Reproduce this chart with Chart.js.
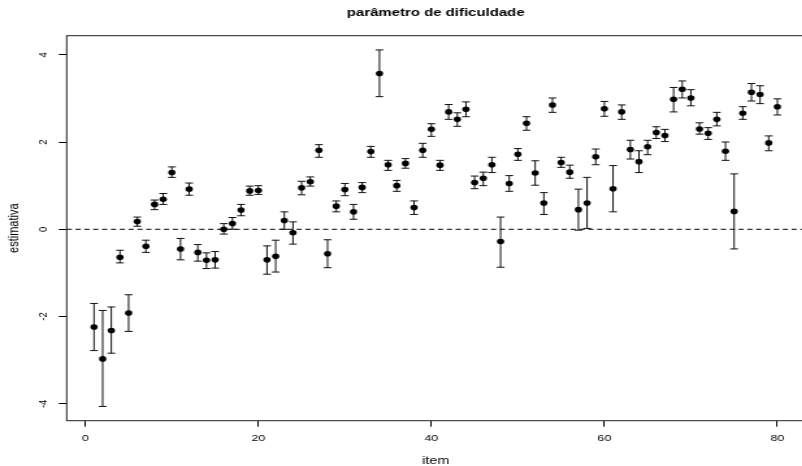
<!DOCTYPE html>
<html>
<head>
<meta charset="utf-8">
<script src="https://cdn.jsdelivr.net/npm/chart.js@4.4.1/dist/chart.umd.min.js"></script>
<style>
  html, body { margin: 0; padding: 0; background: #fff; overflow: hidden; width: 802px; height: 466px; }
  #wrap { position: absolute; left: 0; top: 0; width: 619px; height: 466px; transform: scaleX(1.3); transform-origin: 0 0; }
  canvas { display: block; }
</style>
</head>
<body>
<div id="wrap"><canvas id="c" width="619" height="466"></canvas></div>
<script>
// ---- data ----
const items = [1,2,3,4,5,6,7,8,9,10,11,12,13,14,15,16,17,18,19,20,
               21,22,23,24,25,26,27,28,29,30,31,32,33,34,35,36,37,38,39,40,
               41,42,43,44,45,46,47,48,49,50,51,52,53,54,55,56,57,58,59,60,
               61,62,63,64,65,66,67,68,69,70,71,72,73,74,75,76,77,78,79,80];

const estimates = [-2.24,-2.97,-2.32,-0.64,-1.92,0.18,-0.39,0.57,0.69,1.30,
                   -0.45,0.92,-0.53,-0.71,-0.70,0.00,0.13,0.44,0.88,0.89,
                   -0.70,-0.62,0.20,-0.08,0.95,1.09,1.81,-0.56,0.53,0.91,
                   0.40,0.96,1.78,3.57,1.48,1.00,1.51,0.50,1.81,2.29,
                   1.47,2.69,2.52,2.75,1.07,1.17,1.48,-0.28,1.05,1.72,
                   2.43,1.29,0.60,2.85,1.53,1.31,0.45,0.60,1.66,2.76,
                   0.93,2.69,1.83,1.55,1.89,2.22,2.15,2.98,3.21,3.01,
                   2.30,2.20,2.52,1.79,0.41,2.66,3.14,3.09,1.98,2.81];

const upper = [-1.70,-1.86,-1.78,-0.48,-1.50,0.28,-0.25,0.67,0.82,1.43,
               -0.21,1.06,-0.35,-0.54,-0.51,0.13,0.27,0.57,0.99,1.00,
               -0.38,-0.25,0.40,0.17,1.10,1.20,1.94,-0.24,0.65,1.05,
               0.57,1.07,1.90,4.11,1.58,1.12,1.62,0.65,1.97,2.42,
               1.58,2.86,2.67,2.92,1.22,1.31,1.65,0.28,1.23,1.85,
               2.58,1.57,0.84,3.01,1.65,1.47,0.92,1.19,1.84,2.93,
               1.46,2.85,2.04,1.80,2.04,2.35,2.29,3.25,3.40,3.20,
               2.44,2.33,2.68,2.00,1.27,2.81,3.34,3.29,2.14,2.99];

const lower = [-2.78,-4.06,-2.84,-0.77,-2.34,0.07,-0.53,0.45,0.57,1.19,
               -0.70,0.78,-0.73,-0.90,-0.89,-0.11,0.00,0.31,0.78,0.80,
               -1.03,-0.98,0.00,-0.34,0.79,0.99,1.65,-0.88,0.40,0.77,
               0.23,0.84,1.65,3.04,1.35,0.87,1.40,0.34,1.65,2.13,
               1.35,2.52,2.36,2.58,0.93,1.00,1.30,-0.87,0.87,1.58,
               2.27,1.01,0.34,2.68,1.42,1.17,-0.02,0.02,1.48,2.59,
               0.40,2.52,1.61,1.30,1.71,2.08,2.01,2.69,3.01,2.83,
               2.18,2.06,2.37,1.58,-0.45,2.52,2.94,2.88,1.80,2.62];

const xTicks = [0, 20, 40, 60, 80];
const yTicks = [-4, -2, 0, 2, 4];
const yTickLabels = ['-4', '-2', '0', '2', '4'];
const refLine = 0;

const chartTitle = 'parâmetro de dificuldade';
const xTitle = 'item';
const yTitle = 'estimativa';

// ---- axis ranges (R style: data range extended by 4%) ----
const xLo = Math.min(...items), xHi = Math.max(...items);
const xPad = (xHi - xLo) * 0.04;
const yLo = Math.min(...lower), yHi = Math.max(...upper);
const yPad = (yHi - yLo) * 0.04;

const FONT = "'Liberation Sans', Arial, Helvetica, sans-serif";

const errorBars = {
  id: 'errorBars',
  beforeDatasetsDraw(chart) {
    const { ctx, chartArea: a, scales: { x, y } } = chart;
    ctx.save();
    // dashed reference line
    const y0 = y.getPixelForValue(refLine);
    ctx.strokeStyle = '#000';
    ctx.lineWidth = 1;
    ctx.setLineDash([4, 2.8]);
    ctx.beginPath();
    ctx.moveTo(a.left, y0);
    ctx.lineTo(a.right, y0);
    ctx.stroke();
    ctx.setLineDash([]);
    // error bars
    const cap = 3;
    ctx.strokeStyle = '#111';
    items.forEach((it, i) => {
      const px = x.getPixelForValue(it);
      const pu = y.getPixelForValue(upper[i]);
      const pl = y.getPixelForValue(lower[i]);
      ctx.beginPath();
      ctx.moveTo(px, pu); ctx.lineTo(px, pl);
      ctx.moveTo(px - cap, pu); ctx.lineTo(px + cap, pu);
      ctx.moveTo(px - cap, pl); ctx.lineTo(px + cap, pl);
      ctx.stroke();
    });
    ctx.restore();
  },
  afterDraw(chart) {
    const { ctx, chartArea: a, scales: { y } } = chart;
    ctx.save();
    // plot box
    ctx.strokeStyle = '#222';
    ctx.lineWidth = 1;
    ctx.strokeRect(a.left, a.top, a.right - a.left, a.bottom - a.top);
    // rotated y tick labels (R style)
    ctx.fillStyle = '#000';
    ctx.font = "9.5px " + FONT;
    ctx.textAlign = 'center';
    ctx.textBaseline = 'middle';
    yTicks.forEach((v, i) => {
      const py = y.getPixelForValue(v);
      ctx.save();
      ctx.translate(33.3, py);
      ctx.rotate(-Math.PI / 2);
      ctx.fillText(yTickLabels[i], 0, 0);
      ctx.restore();
    });
    ctx.restore();
  }
};

new Chart(document.getElementById('c'), {
  type: 'scatter',
  data: {
    datasets: [{
      label: 'estimativa',
      data: items.map((it, i) => ({ x: it, y: estimates[i] })),
      pointRadius: 2.8,
      pointHoverRadius: 2.8,
      pointBackgroundColor: '#000',
      pointBorderWidth: 0,
      showLine: false
    }]
  },
  options: {
    responsive: false,
    animation: false,
    events: [],
    layout: { padding: 0, autoPadding: false },
    plugins: {
      legend: { display: false },
      tooltip: { enabled: false },
      title: {
        display: true,
        text: chartTitle,
        fullSize: false,
        color: '#000',
        font: { family: FONT, size: 11.5, weight: 'bold' },
        padding: { top: 5.6, bottom: 16.3 }
      }
    },
    scales: {
      x: {
        type: 'linear',
        min: xLo - xPad,
        max: xHi + xPad,
        afterBuildTicks: s => { s.ticks = xTicks.map(v => ({ value: v })); },
        afterFit: s => { s.height = 45.3; },
        grid: { display: true, drawOnChartArea: false, drawTicks: true, tickLength: 6, color: '#000', lineWidth: 1 },
        border: { display: false },
        ticks: { color: '#000', font: { family: FONT, size: 9.5 }, padding: 6, maxRotation: 0, minRotation: 0, autoSkip: false },
        title: { display: true, text: xTitle, color: '#000', font: { family: FONT, size: 11, lineHeight: 1 }, padding: { top: 0, bottom: 0 } }
      },
      y: {
        type: 'linear',
        min: yLo - yPad,
        max: yHi + yPad,
        afterBuildTicks: s => { s.ticks = yTicks.map(v => ({ value: v })); },
        afterFit: s => { s.width = 51.3; },
        grid: { display: true, drawOnChartArea: false, drawTicks: true, tickLength: 6, color: '#000', lineWidth: 1 },
        border: { display: false },
        ticks: { color: 'rgba(0,0,0,0)', font: { family: FONT, size: 9.5 }, padding: 4 },
        title: { display: true, text: yTitle, color: '#000', font: { family: FONT, size: 11 }, padding: { top: 4, bottom: 0 } }
      }
    }
  },
  plugins: [errorBars]
});
</script>
</body>
</html>
